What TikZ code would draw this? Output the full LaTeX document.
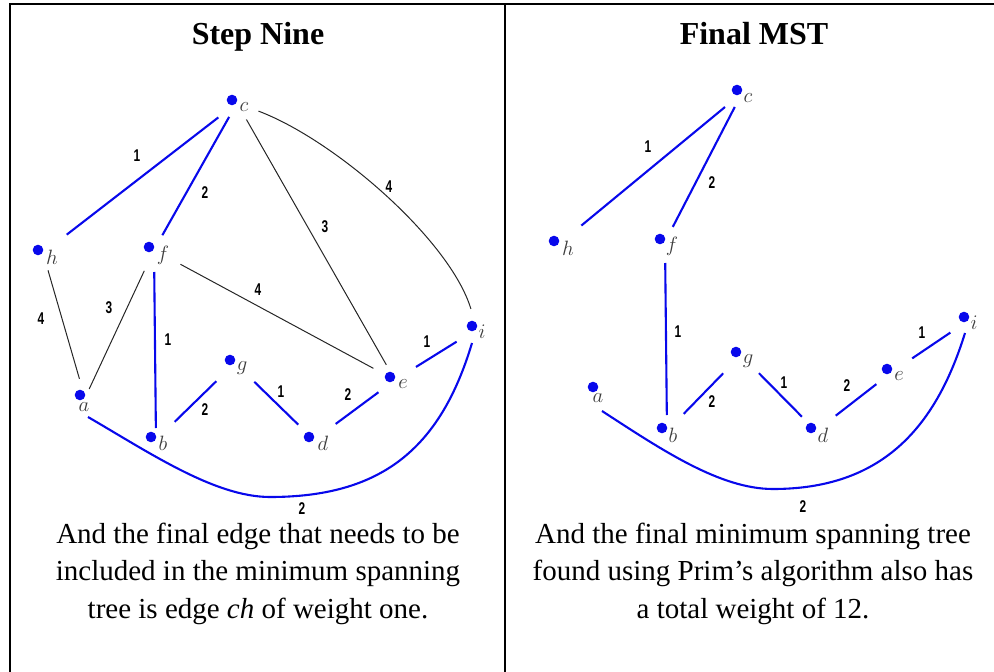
\documentclass[tikz,border=0pt]{standalone}
\usepackage{fontspec}
\setmainfont{Liberation Serif}
\newfontfamily\wfont[FakeStretch=0.7]{Liberation Sans Bold}
\definecolor{vblue}{RGB}{8,8,235}
\definecolor{vgray}{RGB}{60,60,60}
\begin{document}
\begin{tikzpicture}[x=1pt,y=-1pt,
  tree/.style={draw=vblue, line width=2.1pt},
  other/.style={draw=black!85, line width=1pt},
  wlab/.style={font=\wfont\fontsize{17}{17}\selectfont, inner sep=0pt},
  vlab/.style={font=\fontsize{20}{20}\selectfont, text=vgray, inner sep=0pt},
  body/.style={font=\fontsize{29}{29}\selectfont, anchor=base, inner sep=0pt},
  ttl/.style={font=\bfseries\fontsize{32}{32}\selectfont, anchor=base, inner sep=0pt},
  frame/.style={draw=black, line width=2pt}]
\useasboundingbox (0,0) rectangle (994,672);
% table frame
\draw[frame] (9.5,672) -- (9.5,4) -- (994,4);
\draw[frame] (504.5,4) -- (504.5,672);
% titles
\node[ttl] (t1) at (258,44) {Step Nine};
\node[ttl] (t2) at (754,44) {Final MST};
% ---------------- left graph ----------------
\coordinate (Lc) at (237,103);
\coordinate (Lh) at (43,253);
\coordinate (Lf) at (154,250);
\coordinate (Li) at (477,329);
\coordinate (Lg) at (235,363);
\coordinate (Le) at (395,380);
\coordinate (La) at (85,398);
\coordinate (Lb) at (156,440);
\coordinate (Ld) at (314,440);
\draw[tree, shorten <=23.6pt, shorten >=30pt] (Lc) -- (Lh);
\draw[tree, shorten <=16pt, shorten >=17pt] (Lc) -- (Lf);
\draw[other, shorten <=19pt, shorten >=17.5pt] (Lc) -- (Le);
\draw[other, shorten <=23pt, shorten >=21pt] (Lc) .. controls (335,140) and (450,240) .. (Li);
\draw[other, shorten <=18pt, shorten >=20pt] (Lh) -- (La);
\draw[other, shorten <=23pt, shorten >=10pt] (Lf) -- (La);
\draw[tree, shorten <=22pt, shorten >=12pt] (Lf) -- (Lb);
\draw[other, shorten <=30pt, shorten >=24.6pt] (Lf) -- (Le);
\draw[tree, shorten <=26pt, shorten >=26pt] (Lg) -- (Lb);
\draw[tree, shorten <=27pt, shorten >=22pt] (Lg) -- (Ld);
\draw[tree, shorten <=27pt, shorten >=20.6pt] (Ld) -- (Le);
\draw[tree, shorten <=24.7pt, shorten >=24pt] (Le) -- (Li);
\draw[tree] ([shift={(3,19)}]La) .. controls (150,453) and (215,497) .. (270,497)
   .. controls (380,497) and (440,450) .. ([shift={(-5,14)}]Li);
\foreach \v in {Lc,Lh,Lf,Li,Lg,Le,La,Lb,Ld}
  \fill[vblue] ([shift={(-5,-3)}]\v) circle[radius=5.3pt];
\node[vlab] (lc) at (244,107) {$c$};
\node[vlab] (lh) at (52,257) {$h$};
\node[vlab] (lf) at (163,255) {$f$};
\node[vlab] (li) at (482,332) {$i$};
\node[vlab] (lg) at (242,368) {$g$};
\node[vlab] (le) at (403,384) {$e$};
\node[vlab] (la) at (84,407) {$a$};
\node[vlab] (lb) at (163,443) {$b$};
\node[vlab] (ld) at (323,443) {$d$};
\node[wlab] (w1) at (137,156) {1};
\node[wlab] (w2) at (205,193) {2};
\node[wlab] (w3) at (325,227) {3};
\node[wlab] (w4) at (389,187) {4};
\node[wlab] (w5) at (41,319) {4};
\node[wlab] (w6) at (109,308) {3};
\node[wlab] (w7) at (168,340) {1};
\node[wlab] (w8) at (258,290) {4};
\node[wlab] (w9) at (205,410) {2};
\node[wlab] (w10) at (281,392) {1};
\node[wlab] (w11) at (348,395) {2};
\node[wlab] (w12) at (427,342) {1};
\begin{scope}
  \clip (0,0) rectangle (504,514);
  \node[wlab] (w13) at (302,509) {2};
\end{scope}
% ---------------- right graph ----------------
\coordinate (Rc) at (742,93);
\coordinate (Rh) at (559,244);
\coordinate (Rf) at (665,242);
\coordinate (Ri) at (969,320);
\coordinate (Rg) at (741,355);
\coordinate (Re) at (892,372);
\coordinate (Ra) at (598,390);
\coordinate (Rb) at (667,431);
\coordinate (Rd) at (816,431);
\draw[tree, shorten <=22pt, shorten >=29pt] (Rc) -- (Rh);
\draw[tree, shorten <=15.7pt, shorten >=17pt] (Rc) -- (Rf);
\draw[tree, shorten <=21pt, shorten >=16pt] (Rf) -- (Rb);
\draw[tree, shorten <=25.6pt, shorten >=24pt] (Rg) -- (Rb);
\draw[tree, shorten <=25.5pt, shorten >=20pt] (Rg) -- (Rd);
\draw[tree, shorten <=25pt, shorten >=19.8pt] (Rd) -- (Re);
\draw[tree, shorten <=24.4pt, shorten >=22.5pt] (Re) -- (Ri);
\draw[tree] ([shift={(4,21)}]Ra) .. controls (662,450) and (720,489) .. (773,489)
   .. controls (880,489) and (935,430) .. ([shift={(-4,13)}]Ri);
\foreach \v in {Rc,Rh,Rf,Ri,Rg,Re,Ra,Rb,Rd}
  \fill[vblue] ([shift={(-5,-3)}]\v) circle[radius=5.3pt];
\node[vlab] (rc) at (748,98) {$c$};
\node[vlab] (rh) at (568,248) {$h$};
\node[vlab] (rf) at (672,246) {$f$};
\node[vlab] (ri) at (974,323) {$i$};
\node[vlab] (rg) at (748,361) {$g$};
\node[vlab] (re) at (899,376) {$e$};
\node[vlab] (ra) at (598,398) {$a$};
\node[vlab] (rb) at (673,435) {$b$};
\node[vlab] (rd) at (823,435) {$d$};
\node[wlab] (x1) at (648,147) {1};
\node[wlab] (x2) at (712,183) {2};
\node[wlab] (x3) at (678,332) {1};
\node[wlab] (x4) at (712,402) {2};
\node[wlab] (x5) at (784,383) {1};
\node[wlab] (x6) at (847,386) {2};
\node[wlab] (x7) at (922,333) {1};
\node[wlab] (x8) at (803,507) {2};
% ---------------- captions ----------------
\node[body] (b1) at (258,543) {And the final edge that needs to be};
\node[body] (b2) at (258,580) {included in the minimum spanning};
\node[body] (b3) at (258,618) {tree is edge \textit{ch} of weight one.};
\node[body] (c1) at (753,543) {And the final minimum spanning tree};
\node[body] (c2) at (753,580) {found using Prim’s algorithm also has};
\node[body] (c3) at (753,618) {a total weight of 12.};
\end{tikzpicture}
\end{document}
